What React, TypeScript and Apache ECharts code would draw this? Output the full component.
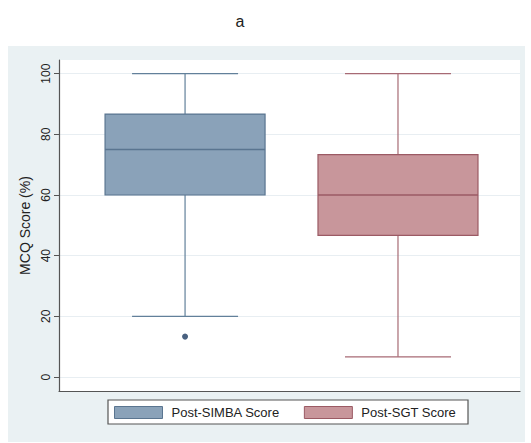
import React, { useEffect, useRef } from "react";
import * as echarts from "echarts";

// Group labels and box-plot statistics (MCQ score, %)
const groups = ["Post-SIMBA Score", "Post-SGT Score"];
const groupPositions = [0, 1];
const whiskerLow = [20, 6.67];
const quartile1 = [60, 46.67];
const medians = [75, 60];
const quartile3 = [86.67, 73.33];
const whiskerHigh = [100, 100];
// Outside values: [group position, score]
const outliers = [[0, 13.33]];
const yTicks = [0, 20, 40, 60, 80, 100];

const fills = ["#8aa2b9", "#c8969b"];
const borders = ["#5a7590", "#9b5a64"];
const whiskerColors = ["#62809a", "#a76a74"];

const FONT = "'Liberation Sans', Arial, sans-serif";

export default function App() {
  const ref = useRef<HTMLDivElement>(null);

  useEffect(() => {
    document.body.style.margin = "0";
    if (!ref.current) return;
    const chart = echarts.init(ref.current, undefined, { renderer: "svg" });

    const boxSeries = groups.map((name, i) => ({
      name,
      type: "custom",
      xAxisIndex: 0,
      yAxisIndex: 0,
      itemStyle: { color: fills[i], borderColor: borders[i], borderWidth: 1.2 },
      encode: { x: 0, y: [1, 2, 3, 4, 5] },
      data: [
        [groupPositions[i], whiskerLow[i], quartile1[i], medians[i], quartile3[i], whiskerHigh[i]],
      ],
      renderItem: (_params: any, api: any) => {
        const x = api.value(0);
        const pLow = api.coord([x, api.value(1)]);
        const pQ1 = api.coord([x, api.value(2)]);
        const pMed = api.coord([x, api.value(3)]);
        const pQ3 = api.coord([x, api.value(4)]);
        const pHigh = api.coord([x, api.value(5)]);
        const cx = pMed[0];
        const halfBox = 80;
        const halfCap = 53;
        const wStroke = whiskerColors[i];
        const line = (x1: number, y1: number, x2: number, y2: number, stroke: string, w: number) => ({
          type: "line",
          shape: { x1, y1, x2, y2 },
          style: { stroke, lineWidth: w },
        });
        return {
          type: "group",
          children: [
            line(cx, pQ3[1], cx, pHigh[1], wStroke, 1.2),
            line(cx, pQ1[1], cx, pLow[1], wStroke, 1.2),
            line(cx - halfCap, pHigh[1], cx + halfCap, pHigh[1], wStroke, 1.2),
            line(cx - halfCap, pLow[1], cx + halfCap, pLow[1], wStroke, 1.2),
            {
              type: "rect",
              shape: { x: cx - halfBox, y: pQ3[1], width: halfBox * 2, height: pQ1[1] - pQ3[1] },
              style: { fill: fills[i], stroke: borders[i], lineWidth: 1.2 },
            },
            line(cx - halfBox, pMed[1], cx + halfBox, pMed[1], borders[i], 1.6),
          ],
        };
      },
    }));

    chart.setOption({
      animation: false,
      backgroundColor: "#ffffff",
      textStyle: { fontFamily: FONT },
      title: {
        text: "a",
        left: 235,
        top: 8,
        textAlign: "center",
        textStyle: { fontFamily: FONT, fontSize: 16, fontWeight: "normal", color: "#222" },
      },
      graphic: [
        {
          type: "rect",
          z: -10,
          shape: { x: 8, y: 46, width: 517, height: 396 },
          style: { fill: "#eaf1f3" },
        },
      ],
      grid: {
        left: 59,
        top: 60,
        right: 11,
        bottom: 52,
        show: true,
        backgroundColor: "#ffffff",
        borderWidth: 0,
      },
      xAxis: {
        type: "value",
        min: -0.592,
        max: 1.573,
        axisLine: { show: true, onZero: false, lineStyle: { color: "#555", width: 1.2 } },
        axisTick: { show: false },
        axisLabel: { show: false },
        splitLine: { show: false },
      },
      yAxis: {
        type: "value",
        min: -4.6,
        max: 104.5,
        name: "MCQ Score (%)",
        nameLocation: "middle",
        nameGap: 26,
        nameTextStyle: { fontFamily: FONT, fontSize: 14, color: "#222" },
        axisLine: { show: true, onZero: false, lineStyle: { color: "#555", width: 1.2 } },
        axisTick: { show: true, length: 5, customValues: yTicks, lineStyle: { color: "#555" } },
        axisLabel: {
          customValues: yTicks,
          rotate: 90,
          margin: 7,
          fontFamily: FONT,
          fontSize: 12,
          color: "#222",
        },
        splitLine: { show: true, lineStyle: { color: "#e8eef2", width: 1 } },
      },
      legend: {
        data: groups.map((name, i) => ({
          name,
          icon: "rect",
          itemStyle: { color: fills[i], borderColor: borders[i], borderWidth: 1 },
        })),
        left: 108,
        top: 400,
        orient: "horizontal",
        backgroundColor: "#ffffff",
        borderColor: "#555",
        borderWidth: 1.2,
        padding: [6, 12, 5, 6],
        itemGap: 24,
        itemWidth: 48,
        itemHeight: 12,
        selectedMode: false,
        textStyle: { fontFamily: FONT, fontSize: 13, color: "#222", padding: [0, 0, 0, 4] },
      },
      series: [
        ...boxSeries,
        {
          name: "outside values",
          type: "scatter",
          data: outliers,
          symbol: "circle",
          symbolSize: 6,
          itemStyle: { color: "#1b3a60" },
        },
      ],
    });

    return () => chart.dispose();
  }, []);

  return <div ref={ref} style={{ width: 531, height: 443 }} />;
}
